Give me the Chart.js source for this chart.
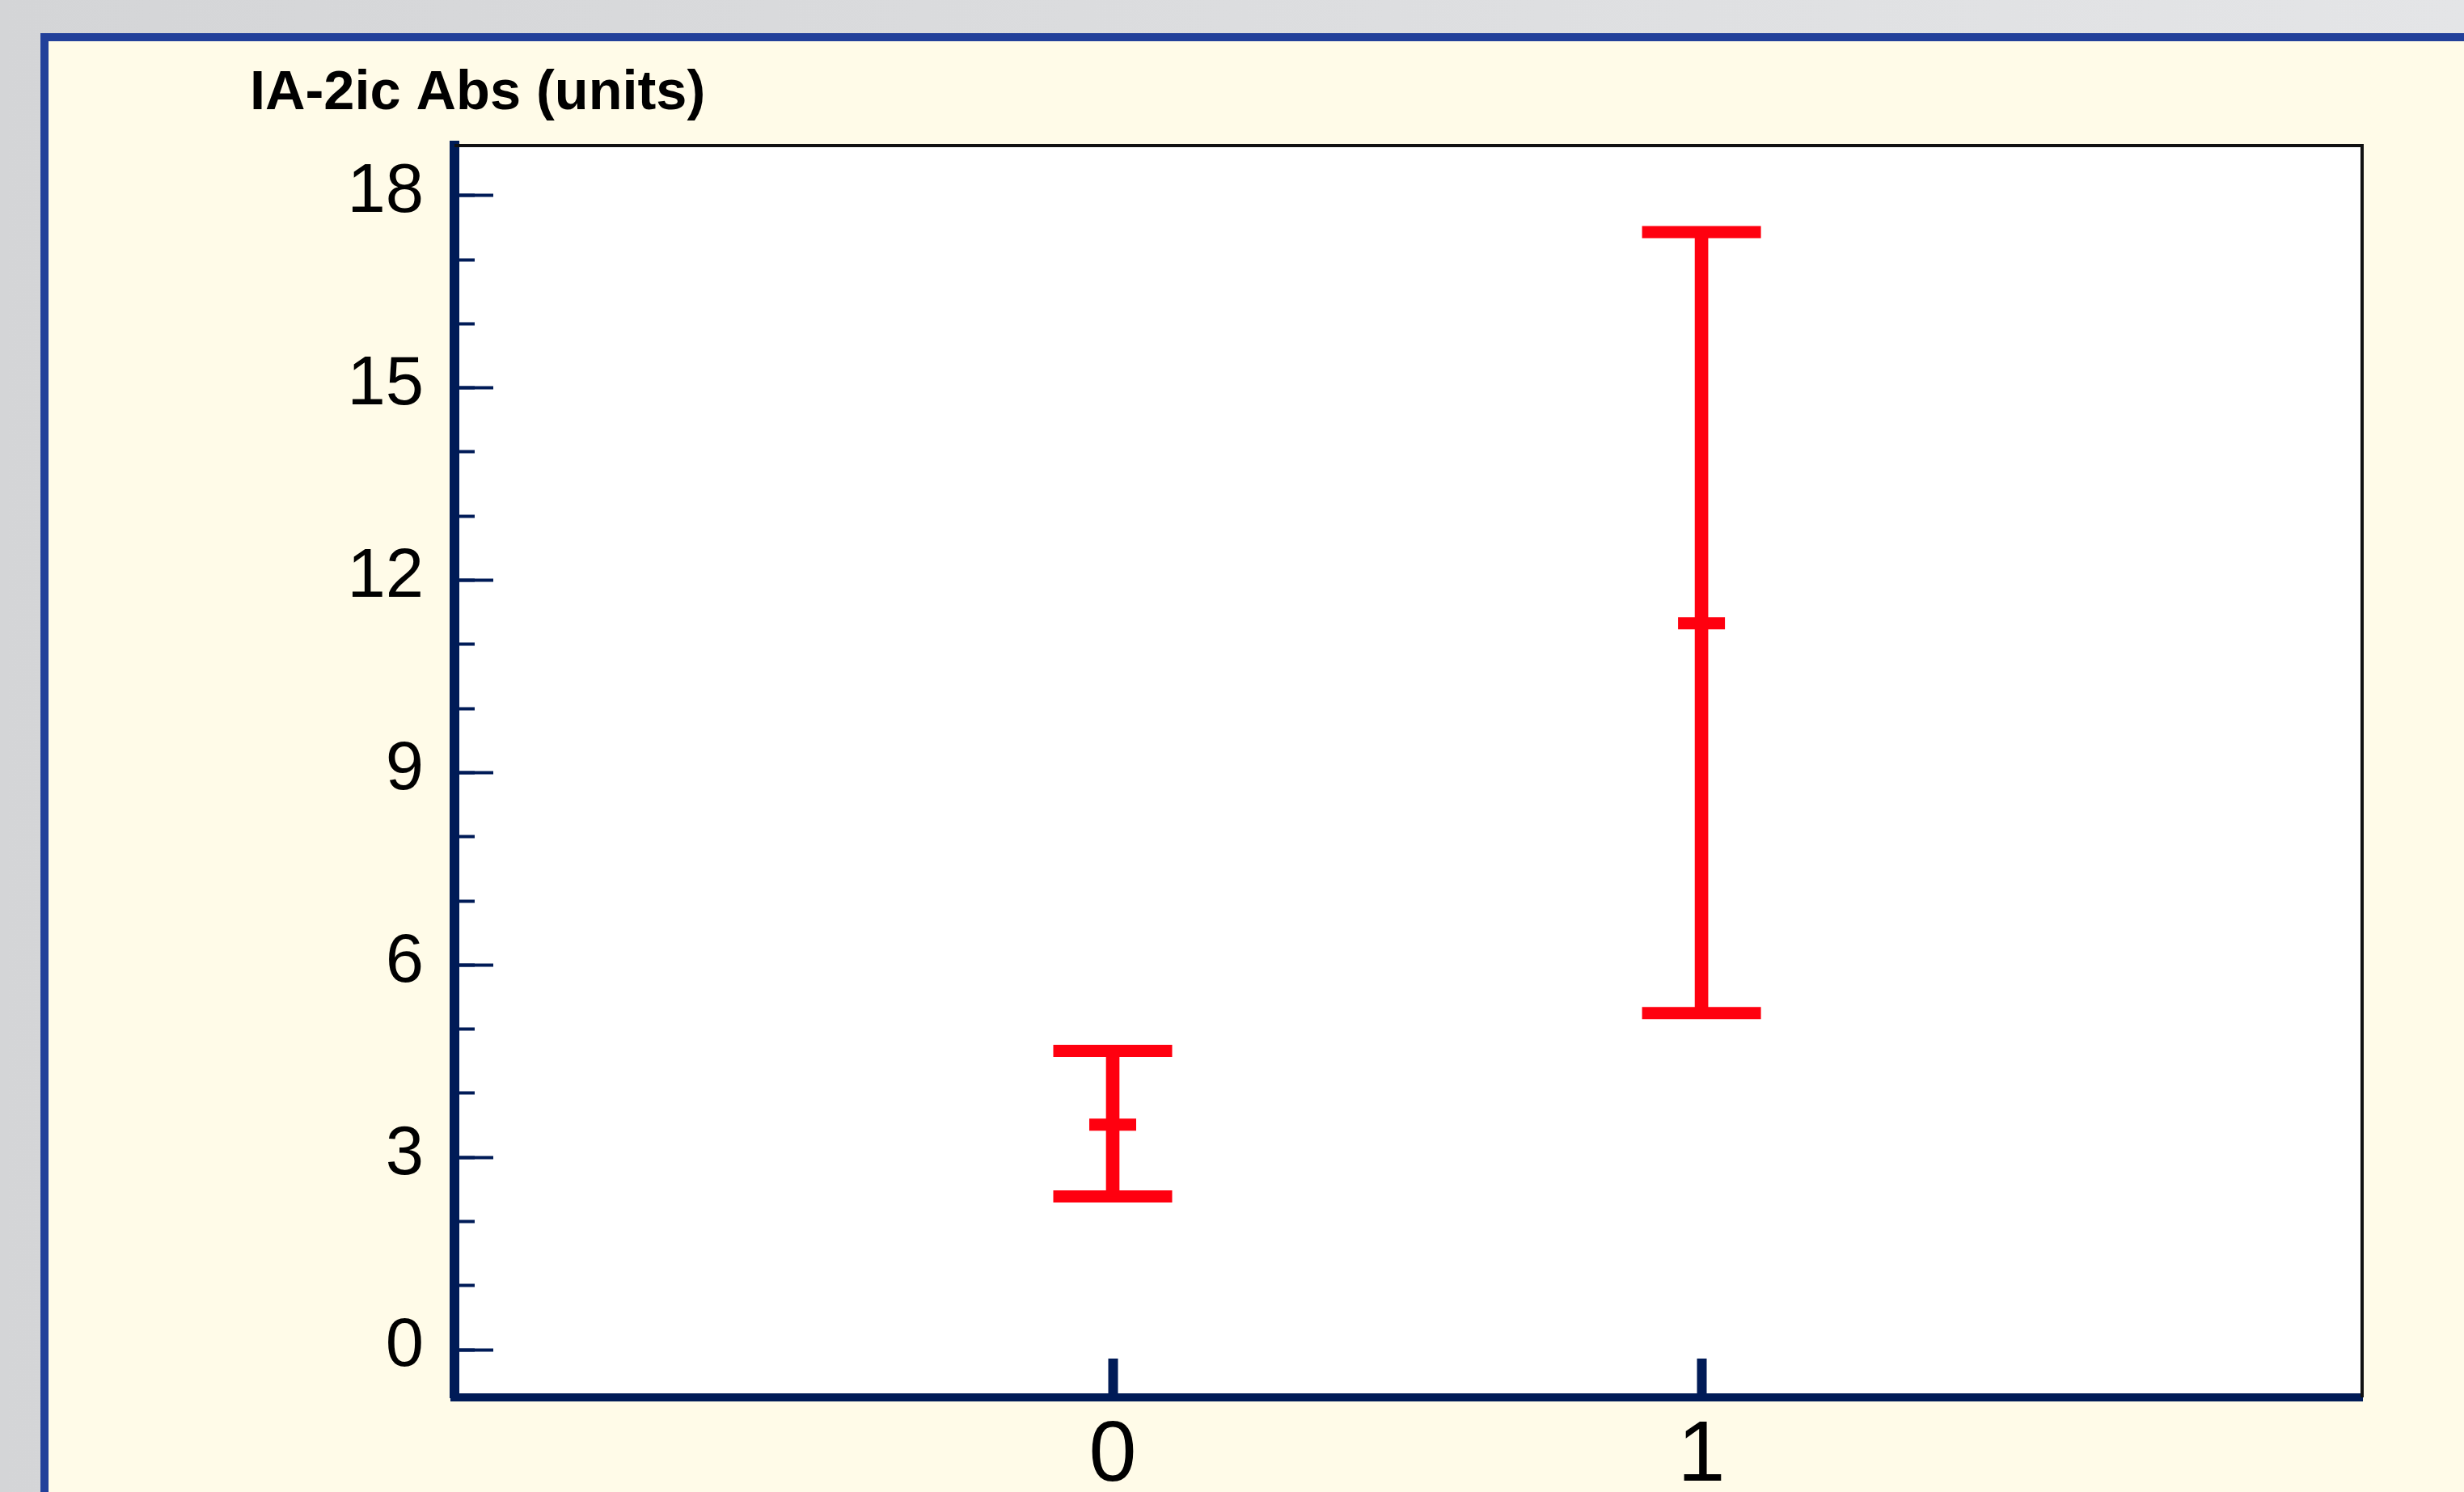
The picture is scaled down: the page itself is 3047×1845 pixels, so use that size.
<!DOCTYPE html>
<html>
<head>
<meta charset="utf-8">
<title>IA-2ic Abs</title>
<script src="https://cdn.jsdelivr.net/npm/chart.js@4.4.0/dist/chart.umd.min.js"></script>
<style>
  html, body { margin: 0; padding: 0; overflow: hidden; background: #d6d7d9; }
  canvas { display: block; }
</style>
</head>
<body>
<canvas id="chart" width="3047" height="1845"></canvas>
<script>
// values
const categories = [0, 1];
const xTickLabels = ['0', '1'];
const meanValues = [3.51, 11.33];
const lowerValues = [2.39, 5.25];
const upperValues = [4.66, 17.43];
const yTickLabels = [0, 3, 6, 9, 12, 15, 18];
const yAxisTitle = 'IA-2ic Abs (units)';

const RED = '#ff000f';
const NAVY = '#001b57';
const FONT = '"Liberation Sans", Arial, Helvetica, sans-serif';

// panel background, frame, white plot box
const framePlugin = {
  id: 'frame',
  beforeDraw(chart) {
    const { ctx, width, height, chartArea: a } = chart;
    ctx.save();
    const g = ctx.createLinearGradient(0, 0, width, 0);
    g.addColorStop(0, '#d4d5d7');
    g.addColorStop(1, '#e4e5e7');
    ctx.fillStyle = g;
    ctx.fillRect(0, 0, width, height);
    ctx.fillStyle = '#22409a';
    ctx.fillRect(50, 41, width - 50, height - 41);
    ctx.fillStyle = '#fffbe8';
    ctx.fillRect(60, 51, width - 60, height - 51);
    ctx.fillStyle = '#ffffff';
    ctx.fillRect(a.left, a.top, a.right - a.left, a.bottom - a.top);
    ctx.restore();
  },
  afterDraw(chart) {
    const { ctx, chartArea: a } = chart;
    ctx.save();
    ctx.strokeStyle = '#111111';
    ctx.lineWidth = 4;
    ctx.beginPath();
    ctx.moveTo(a.left, a.top);
    ctx.lineTo(a.right, a.top);
    ctx.lineTo(a.right, a.bottom);
    ctx.stroke();
    // axis title above the plot
    ctx.fillStyle = '#000';
    ctx.font = 'bold 68.5px ' + FONT;
    ctx.textBaseline = 'alphabetic';
    ctx.textAlign = 'left';
    ctx.fillText(yAxisTitle, 309, 135);
    ctx.restore();
  }
};

new Chart(document.getElementById('chart'), {
  type: 'bar',
  data: {
    datasets: [
      {
        type: 'bar',
        data: categories.map((c, i) => ({ x: c, y: [lowerValues[i], upperValues[i]] })),
        backgroundColor: RED,
        borderWidth: 0,
        barThickness: 16,
        grouped: false
      },
      {
        type: 'scatter',
        data: categories.map((c, i) => ({ x: c, y: upperValues[i] })),
        pointStyle: 'line', radius: 73.5, borderWidth: 15, borderColor: RED
      },
      {
        type: 'scatter',
        data: categories.map((c, i) => ({ x: c, y: lowerValues[i] })),
        pointStyle: 'line', radius: 73.5, borderWidth: 15, borderColor: RED
      },
      {
        type: 'scatter',
        data: categories.map((c, i) => ({ x: c, y: meanValues[i] })),
        pointStyle: 'line', radius: 29, borderWidth: 15, borderColor: RED
      }
    ]
  },
  options: {
    responsive: false,
    animation: false,
    events: [],
    devicePixelRatio: 1,
    layout: { padding: { top: 180, right: 126, bottom: 0, left: 0 } },
    plugins: { legend: { display: false }, tooltip: { enabled: false } },
    scales: {
      x: {
        type: 'linear',
        min: -1.118, max: 2.122,
        offset: false,
        afterFit: s => { s.height = 117; s.paddingLeft = 0; s.paddingRight = 0; },
        afterBuildTicks: s => { s.ticks = categories.map(v => ({ value: v })); },
        border: { display: true, color: NAVY, width: 10 },
        grid: { display: true, offset: false, drawOnChartArea: false, drawTicks: true,
                tickLength: -48, tickWidth: 12, tickColor: NAVY },
        ticks: {
          autoSkip: false, maxRotation: 0, padding: 58, color: '#000',
          font: { family: FONT, size: 106 },
          callback: v => xTickLabels[categories.indexOf(v)] ?? ''
        }
      },
      y: {
        type: 'linear',
        weight: 1,
        min: -0.744, max: 18.78,
        afterFit: s => { s.width = 562; s.paddingTop = 0; s.paddingBottom = 0; },
        afterBuildTicks: s => { s.ticks = yTickLabels.map(v => ({ value: v })); },
        border: { display: true, color: NAVY, width: 12 },
        grid: { display: true, drawOnChartArea: false, drawTicks: true,
                tickLength: -48, tickWidth: 4, tickColor: NAVY },
        ticks: {
          autoSkip: false, padding: 86, labelOffset: -3, color: '#000',
          font: { family: FONT, size: 85 },
          callback: v => String(v)
        }
      },
      yMinor: {
        type: 'linear',
        position: 'left',
        weight: 0,
        min: -0.744, max: 18.78,
        afterFit: s => { s.width = 0; s.paddingTop = 0; s.paddingBottom = 0; },
        border: { display: false },
        grid: { display: true, drawOnChartArea: false, drawTicks: true,
                tickLength: -25, tickWidth: 4, tickColor: NAVY },
        ticks: { display: false, stepSize: 1, includeBounds: false, autoSkip: false }
      }
    }
  },
  plugins: [framePlugin]
});
</script>
</body>
</html>
